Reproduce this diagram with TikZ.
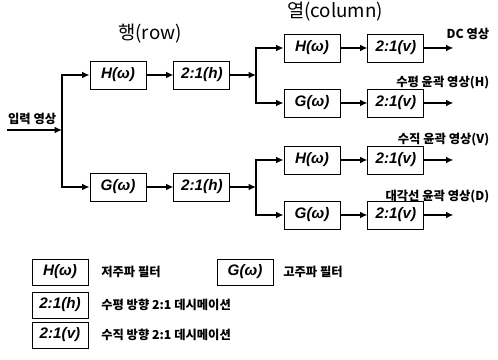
\documentclass[tikz,border=0pt]{standalone}
\usepackage{fontspec}
\setmainfont{Liberation Sans}
\newfontfamily\kr{Noto Sans CJK KR}
\usetikzlibrary{arrows.meta, positioning}

\begin{document}
\begin{tikzpicture}[
			node distance=0.81cm,
			box/.style={rectangle, draw, minimum width=1.68cm, minimum height=0.84cm, inner sep=0pt, font=\fontsize{13}{15}\selectfont\bfseries\itshape, line width=0.8pt},
			keybox/.style={box, minimum height=0.78cm},
			lbl/.style={font=\kr\fontsize{10.5}{12}\selectfont\bfseries},
			ttl/.style={font=\kr\fontsize{16}{19}\selectfont},
			wire/.style={line width=1.2pt, -{Latex[length=2.2mm, width=2mm]}}
			]
			\useasboundingbox (0,0) rectangle (14.94,10.8);
			
			% Titles
			\node[ttl] (trow) at (4.5,9.78) {행(row)};
			\node[ttl] (tcol) at (10.05,10.44) {열(column)};
			
			% Row stage
			\coordinate (in) at (0.21,6.9);
			\coordinate (rsplit) at (1.86,6.9);
			\node[lbl, anchor=south west] (inlbl) at (0.12,6.93) {입력 영상};
			\node[box] (rh) at (3.54,8.55) {H(ω)};
			\node[box, right=of rh] (rhd) {2:1(h)};
			\node[box] (rg) at (3.54,5.19) {G(ω)};
			\node[box, right=of rg] (rgd) {2:1(h)};
			
			% Column stage
			\coordinate (csplit1) at (7.68,8.55);
			\coordinate (csplit2) at (7.68,5.19);
			\node[box] (ch1) at (9.36,9.36) {H(ω)};
			\node[box, right=of ch1] (cd1) {2:1(v)};
			\node[box] (cg1) at (9.36,7.71) {G(ω)};
			\node[box, right=of cg1] (cd2) {2:1(v)};
			\node[box] (ch2) at (9.36,6.0) {H(ω)};
			\node[box, right=of ch2] (cd3) {2:1(v)};
			\node[box] (cg2) at (9.36,4.35) {G(ω)};
			\node[box, right=of cg2] (cd4) {2:1(v)};
			
			% Outputs
			\coordinate[right=0.87cm of cd1] (o1);
			\coordinate[right=0.87cm of cd2] (o2);
			\coordinate[right=0.87cm of cd3] (o3);
			\coordinate[right=0.87cm of cd4] (o4);
			\node[lbl, anchor=east] (ll) at (14.8,9.78) {DC 영상};
			\node[lbl, anchor=east] (lh) at (14.8,8.31) {수평 윤곽 영상(H)};
			\node[lbl, anchor=east] (lv) at (14.8,6.6) {수직 윤곽 영상(V)};
			\node[lbl, anchor=east] (ld) at (14.8,4.89) {대각선 윤곽 영상(D)};
			
			% Arrows
			\draw[wire] (in) -- (rsplit);
			\draw[wire] (rsplit) |- (rh);
			\draw[wire] (rsplit) |- (rg);
			\draw[wire] (rh) -- (rhd);
			\draw[wire] (rg) -- (rgd);
			\draw[wire] (rhd) -- (csplit1);
			\draw[wire] (rgd) -- (csplit2);
			\draw[wire] (csplit1) |- (ch1);
			\draw[wire] (csplit1) |- (cg1);
			\draw[wire] (csplit2) |- (ch2);
			\draw[wire] (csplit2) |- (cg2);
			\draw[wire] (ch1) -- (cd1);
			\draw[wire] (cg1) -- (cd2);
			\draw[wire] (ch2) -- (cd3);
			\draw[wire] (cg2) -- (cd4);
			\draw[wire] (cd1) -- (o1);
			\draw[wire] (cd2) -- (o2);
			\draw[wire] (cd3) -- (o3);
			\draw[wire] (cd4) -- (o4);
			
			% Legend
			\node[keybox] (kh) at (1.8,2.64) {H(ω)};
			\node[lbl, right=0.26cm of kh] (khtxt) {저주파 필터};
			\node[keybox] (kg) at (7.35,2.64) {G(ω)};
			\node[lbl, right=0.17cm of kg] (kgtxt) {고주파 필터};
			\node[keybox] (kdh) at (1.8,1.65) {2:1(h)};
			\node[lbl, right=0.26cm of kdh] (kdhtxt) {수평 방향 2:1 데시메이션};
			\node[keybox] (kdv) at (1.8,0.75) {2:1(v)};
			\node[lbl, right=0.26cm of kdv] (kdvtxt) {수직 방향 2:1 데시메이션};
		\end{tikzpicture}
\end{document}
